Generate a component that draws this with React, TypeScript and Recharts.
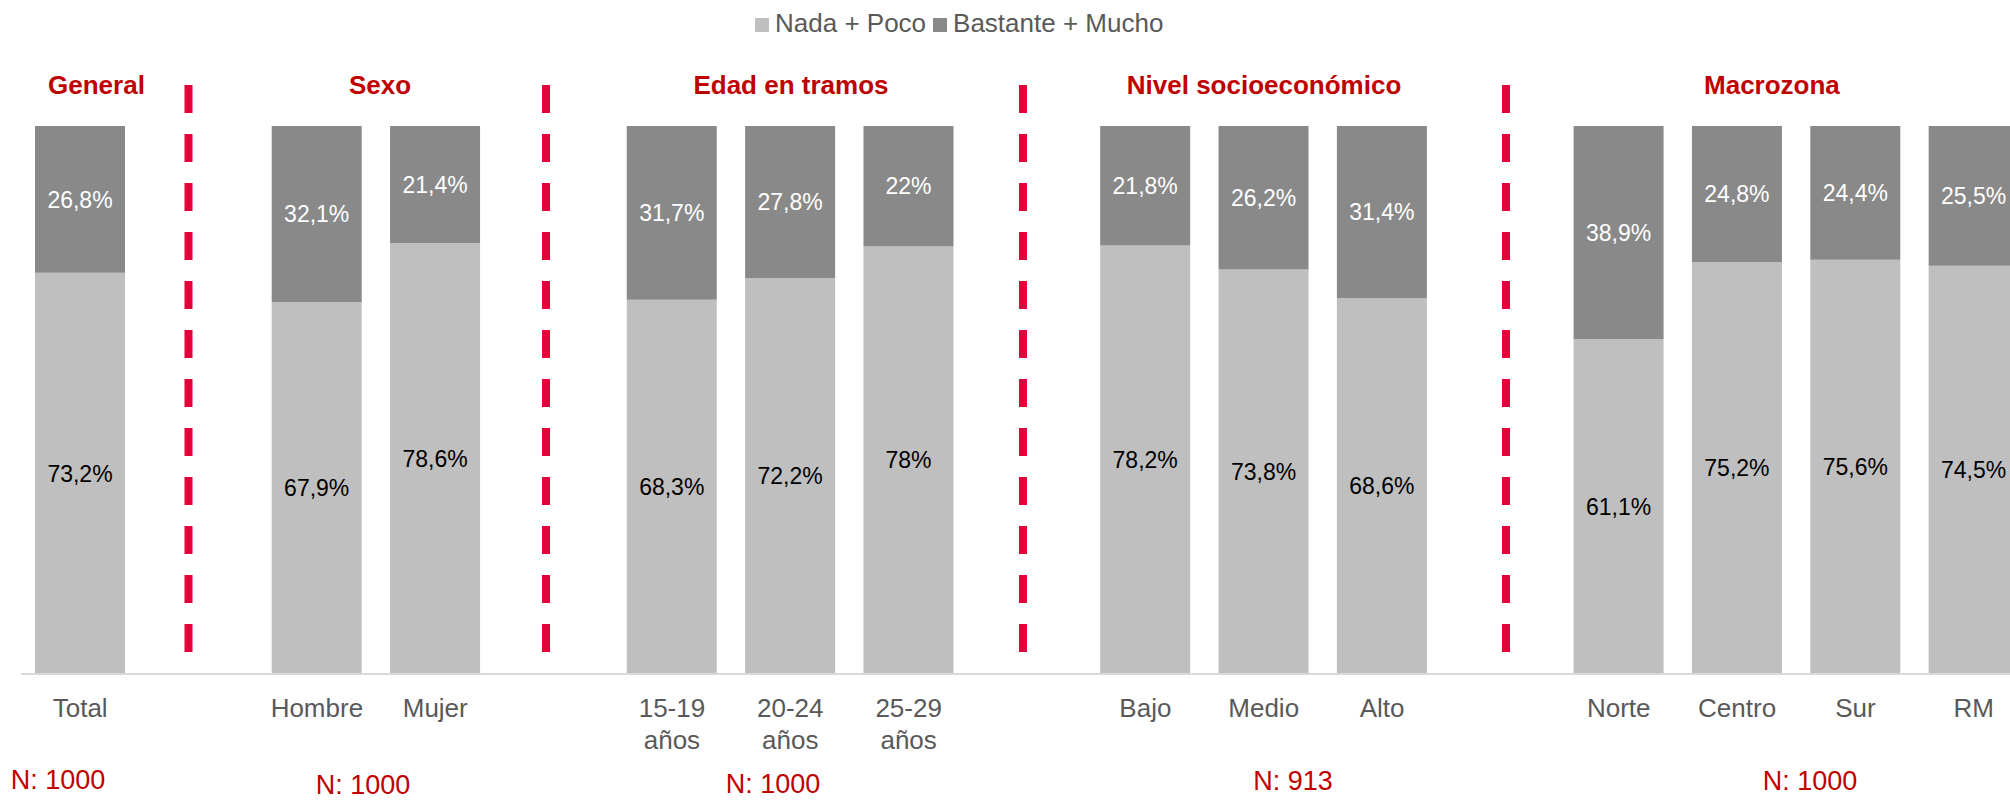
import { Bar, BarChart, LabelList, Legend, ReferenceDot, ReferenceLine, XAxis, YAxis } from "recharts";

// values (percent)
const categories = [
  "Total",
  "Hombre", "Mujer",
  "15-19\naños", "20-24\naños", "25-29\naños",
  "Bajo", "Medio", "Alto",
  "Norte", "Centro", "Sur", "RM",
];
const seriesNames = ["Nada + Poco", "Bastante + Mucho"];
const nadaPoco = [73.2, 67.9, 78.6, 68.3, 72.2, 78, 78.2, 73.8, 68.6, 61.1, 75.2, 75.6, 74.5];
const bastanteMucho = [26.8, 32.1, 21.4, 31.7, 27.8, 22, 21.8, 26.2, 31.4, 38.9, 24.8, 24.4, 25.5];

const groupNames = ["General", "Sexo", "Edad en tramos", "Nivel socioeconómico", "Macrozona"];
const groupSizes = [1, 2, 3, 3, 4];
const groupN = ["N: 1000", "N: 1000", "N: 1000", "N: 913", "N: 1000"];

// annotation placement on the hidden "sep" axis (0..16 across the plot)
const separatorX = [1.332, 4.175, 7.968, 11.809];
const headerX = [0.6, 2.855, 6.123, 9.885, 13.924];
const headerY = 107.5;
const nLabelX = [0.294, 2.72, 5.98, 10.115, 14.227];
const nLabelY = [-19.3, -20.2, -20.1, -19.5, -19.5];

const LIGHT = "#BFBFBF";
const DARK = "#898989";
const RED = "#C00000";
const SEP = "#E4003A";
const FONT = "'Liberation Sans', Arial, sans-serif";

// build rows, with an empty slot between groups
const rows: { name: string; nada: number | null; bastante: number | null }[] = [];
let k = 0;
groupSizes.forEach((size, g) => {
  if (g > 0) rows.push({ name: `_${g}`, nada: null, bastante: null });
  for (let i = 0; i < size; i++, k++) {
    rows.push({ name: categories[k], nada: nadaPoco[k], bastante: bastanteMucho[k] });
  }
});

const fmt = (v: any) => (v == null ? "" : `${String(v).replace(".", ",")}%`);

const Tick = ({ x, y, payload }: any) => {
  const value = String(payload.value);
  if (value.startsWith("_")) return null;
  return (
    <text x={x} y={y + 43} textAnchor="middle" fill="#595959" fontSize={26} fontFamily={FONT}>
      {value.split("\n").map((line, i) => (
        <tspan key={i} x={x} dy={i === 0 ? 0 : 32}>
          {line}
        </tspan>
      ))}
    </text>
  );
};

const LegendContent = ({ payload }: any) => {
  const items = [...(payload || [])].sort(
    (a: any, b: any) => seriesNames.indexOf(a.value) - seriesNames.indexOf(b.value)
  );
  return (
    <div style={{ display: "flex", alignItems: "center", fontFamily: FONT, fontSize: 26, color: "#595959", whiteSpace: "nowrap" }}>
      {items.map((p: any) => (
        <span key={p.value} style={{ display: "flex", alignItems: "center", marginRight: 7 }}>
          <span style={{ width: 14, height: 14, background: p.color, marginRight: 6, marginTop: 2 }} />
          {p.value}
        </span>
      ))}
    </div>
  );
};

const textShape = (text: string, color: string, size: number, weight: number) => (props: any) => (
  <text
    x={props.cx}
    y={props.cy}
    textAnchor="middle"
    dominantBaseline="central"
    fill={color}
    fontSize={size}
    fontWeight={weight}
    fontFamily={FONT}
  >
    {text}
  </text>
);

export default function App() {
  return (
    <div style={{ position: "absolute", left: 0, top: 0, width: 2010, height: 801, overflow: "hidden", background: "#fff" }}>
      <BarChart
        width={2040}
        height={801}
        data={rows}
        margin={{ top: 126, right: 7, bottom: 67, left: 21 }}
        barSize={90}
      >
        <XAxis
          dataKey="name"
          interval={0}
          height={60}
          tick={<Tick />}
          tickLine={false}
          tickSize={0}
          tickMargin={0}
          axisLine={{ stroke: "#D9D9D9", strokeWidth: 2 }}
        />
        <XAxis xAxisId="sep" type="number" domain={[0, 16]} allowDataOverflow hide />
        <YAxis domain={[0, 100]} allowDataOverflow hide />
        <Legend
          layout="horizontal"
          verticalAlign="middle"
          align="center"
          content={<LegendContent />}
          wrapperStyle={{ top: 8, left: 755, width: "auto", height: "auto" }}
        />
        <Bar dataKey="nada" name={seriesNames[0]} stackId="a" fill={LIGHT} isAnimationActive={false}>
          <LabelList dataKey="nada" position="center" formatter={fmt} fill="#000" fontSize={23} fontFamily={FONT} />
        </Bar>
        <Bar dataKey="bastante" name={seriesNames[1]} stackId="a" fill={DARK} isAnimationActive={false}>
          <LabelList dataKey="bastante" position="center" formatter={fmt} fill="#fff" fontSize={23} fontFamily={FONT} />
        </Bar>
        {separatorX.map((x) => (
          <ReferenceLine
            key={x}
            xAxisId="sep"
            segment={[{ x, y: headerY }, { x, y: 0 }]}
            stroke={SEP}
            strokeWidth={8}
            strokeDasharray="28 21"
            ifOverflow="visible"
          />
        ))}
        {groupNames.map((name, i) => (
          <ReferenceDot
            key={name}
            xAxisId="sep"
            x={headerX[i]}
            y={headerY}
            r={0}
            ifOverflow="visible"
            shape={textShape(name, RED, 26, 700)}
          />
        ))}
        {groupN.map((n, i) => (
          <ReferenceDot
            key={`n${i}`}
            xAxisId="sep"
            x={nLabelX[i]}
            y={nLabelY[i]}
            r={0}
            ifOverflow="visible"
            shape={textShape(n, RED, 27, 400)}
          />
        ))}
      </BarChart>
    </div>
  );
}
